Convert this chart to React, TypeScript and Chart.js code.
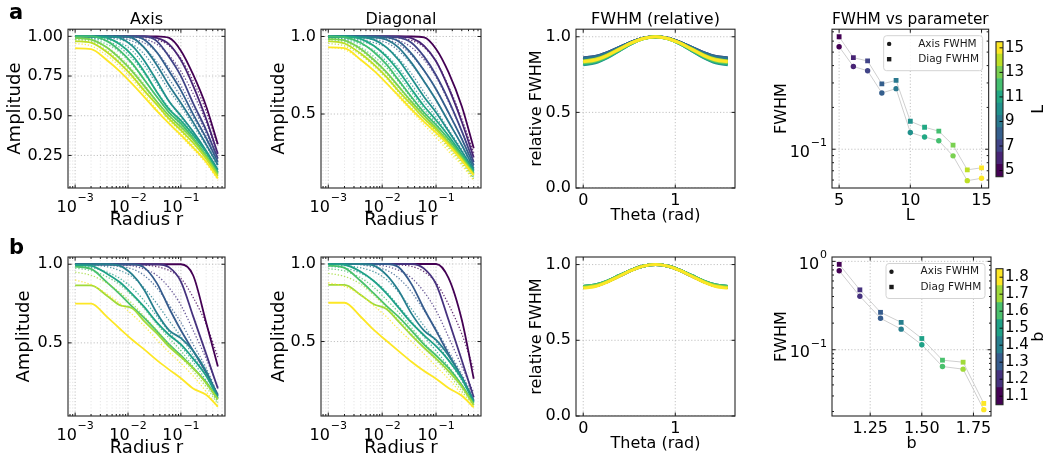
import React, { useEffect, useRef } from 'react';
import { Chart, registerables } from 'chart.js';

Chart.register(...registerables);

const FONT = "'DejaVu Sans', 'Liberation Sans', sans-serif";
Chart.defaults.font.family = FONT;
Chart.defaults.color = '#000';

// ---------------- data ----------------
const RADII = [0.001, 0.002, 0.004, 0.007, 0.012, 0.02, 0.035, 0.06, 0.1, 0.17, 0.3, 0.5];
const L_VALUES = [5, 6, 7, 8, 9, 10, 11, 12, 13, 14, 15];
const B_VALUES = [1.1, 1.2, 1.3, 1.4, 1.5, 1.6, 1.7, 1.8];
const L_COLORS = ['#440154', '#482475', '#414487', '#355f8d', '#2a788e', '#21918c', '#22a884', '#44bf70', '#7ad151', '#bddf26', '#fde725'];
const B_COLORS = ['#440154', '#46327e', '#365c8d', '#277f8e', '#1fa187', '#4ac16d', '#a0da39', '#fde725'];

// Row a, Axis (solid = measured, dotted = reference)
const AXIS_L_SOLID = [
  [1, 1, 1, 1, 1, 1, 1, 0.99, 0.91, 0.76, 0.56, 0.32],
  [1, 1, 1, 1, 1, 1, 0.99, 0.95, 0.85, 0.69, 0.48, 0.26],
  [1, 1, 1, 1, 1, 1, 0.97, 0.87, 0.75, 0.58, 0.41, 0.23],
  [1, 1, 1, 1, 1, 0.98, 0.9, 0.78, 0.66, 0.51, 0.36, 0.21],
  [1, 1, 1, 1, 0.99, 0.93, 0.82, 0.69, 0.58, 0.46, 0.32, 0.19],
  [1, 1, 1, 0.99, 0.94, 0.85, 0.72, 0.59, 0.5, 0.4, 0.28, 0.16],
  [1, 1, 0.99, 0.95, 0.88, 0.78, 0.65, 0.54, 0.47, 0.38, 0.27, 0.145],
  [1, 1, 0.97, 0.91, 0.83, 0.73, 0.62, 0.52, 0.45, 0.36, 0.25, 0.14],
  [0.99, 0.98, 0.93, 0.86, 0.78, 0.69, 0.59, 0.5, 0.43, 0.35, 0.245, 0.13],
  [0.97, 0.96, 0.9, 0.83, 0.75, 0.66, 0.57, 0.48, 0.41, 0.33, 0.23, 0.12],
  [0.925, 0.92, 0.85, 0.78, 0.7, 0.62, 0.53, 0.45, 0.38, 0.3, 0.21, 0.105],
];
const AXIS_L_DOTTED = [
  [1, 1, 1, 1, 1, 0.995, 0.98, 0.94, 0.86, 0.72, 0.53, 0.31],
  [1, 1, 1, 1, 0.995, 0.985, 0.95, 0.88, 0.78, 0.64, 0.46, 0.25],
  [1, 1, 1, 0.995, 0.985, 0.96, 0.9, 0.8, 0.69, 0.55, 0.39, 0.22],
  [1, 1, 0.995, 0.99, 0.97, 0.93, 0.84, 0.73, 0.62, 0.49, 0.35, 0.2],
  [1, 0.995, 0.99, 0.98, 0.95, 0.89, 0.78, 0.66, 0.56, 0.44, 0.31, 0.18],
  [0.995, 0.99, 0.98, 0.96, 0.91, 0.82, 0.7, 0.59, 0.49, 0.39, 0.27, 0.155],
  [0.99, 0.985, 0.97, 0.93, 0.86, 0.77, 0.65, 0.55, 0.46, 0.37, 0.25, 0.14],
  [0.985, 0.98, 0.95, 0.9, 0.82, 0.73, 0.62, 0.52, 0.44, 0.35, 0.24, 0.13],
  [0.98, 0.97, 0.93, 0.87, 0.79, 0.7, 0.59, 0.49, 0.42, 0.33, 0.23, 0.12],
  [0.97, 0.96, 0.91, 0.84, 0.76, 0.67, 0.57, 0.47, 0.4, 0.31, 0.21, 0.11],
  [0.955, 0.94, 0.88, 0.81, 0.73, 0.64, 0.54, 0.45, 0.37, 0.29, 0.2, 0.095],
];
// Row a, Diagonal
const DIAG_L_SOLID = [
  [1, 1, 1, 1, 1, 1, 1, 0.995, 0.92, 0.77, 0.55, 0.28],
  [1, 1, 1, 1, 1, 1, 0.99, 0.94, 0.84, 0.67, 0.45, 0.22],
  [1, 1, 1, 1, 1, 0.995, 0.96, 0.87, 0.75, 0.59, 0.39, 0.19],
  [1, 1, 1, 1, 0.995, 0.97, 0.89, 0.78, 0.66, 0.51, 0.34, 0.17],
  [1, 1, 1, 0.995, 0.98, 0.93, 0.83, 0.71, 0.59, 0.45, 0.3, 0.15],
  [1, 1, 0.995, 0.98, 0.93, 0.85, 0.73, 0.61, 0.51, 0.39, 0.26, 0.14],
  [1, 1, 0.985, 0.94, 0.87, 0.78, 0.66, 0.55, 0.46, 0.36, 0.24, 0.13],
  [1, 0.995, 0.96, 0.9, 0.82, 0.72, 0.61, 0.51, 0.43, 0.34, 0.23, 0.12],
  [0.985, 0.975, 0.92, 0.85, 0.77, 0.68, 0.58, 0.49, 0.41, 0.32, 0.22, 0.115],
  [0.97, 0.955, 0.89, 0.82, 0.74, 0.65, 0.56, 0.47, 0.4, 0.31, 0.21, 0.11],
  [0.93, 0.925, 0.85, 0.78, 0.7, 0.62, 0.53, 0.45, 0.38, 0.3, 0.2, 0.105],
];
const DIAG_L_DOTTED = [
  [1, 1, 1, 1, 0.995, 0.99, 0.975, 0.93, 0.84, 0.68, 0.47, 0.25],
  [1, 1, 1, 0.995, 0.99, 0.975, 0.93, 0.85, 0.74, 0.58, 0.39, 0.19],
  [1, 1, 0.995, 0.99, 0.98, 0.95, 0.88, 0.78, 0.66, 0.51, 0.34, 0.16],
  [1, 0.995, 0.99, 0.98, 0.96, 0.91, 0.82, 0.71, 0.59, 0.45, 0.3, 0.14],
  [0.995, 0.99, 0.98, 0.96, 0.93, 0.86, 0.76, 0.64, 0.53, 0.4, 0.27, 0.13],
  [0.99, 0.985, 0.97, 0.94, 0.88, 0.8, 0.69, 0.58, 0.48, 0.36, 0.24, 0.11],
  [0.985, 0.98, 0.95, 0.91, 0.84, 0.75, 0.64, 0.53, 0.44, 0.33, 0.22, 0.1],
  [0.98, 0.97, 0.93, 0.87, 0.8, 0.71, 0.6, 0.5, 0.41, 0.31, 0.2, 0.09],
  [0.97, 0.96, 0.91, 0.84, 0.76, 0.67, 0.57, 0.47, 0.39, 0.29, 0.19, 0.085],
  [0.955, 0.94, 0.88, 0.81, 0.73, 0.64, 0.54, 0.45, 0.37, 0.28, 0.18, 0.08],
  [0.93, 0.915, 0.85, 0.78, 0.7, 0.61, 0.52, 0.43, 0.35, 0.26, 0.17, 0.07],
];
// Row b, Axis
const AXIS_B_SOLID = [
  [1, 1, 1, 1, 1, 1, 1, 1, 1, 0.93, 0.63, 0.35],
  [1, 1, 1, 1, 1, 1, 1, 0.98, 0.89, 0.67, 0.43, 0.21],
  [1, 1, 1, 1, 1, 0.98, 0.88, 0.72, 0.58, 0.45, 0.31, 0.17],
  [1, 1, 1, 0.99, 0.935, 0.84, 0.69, 0.58, 0.53, 0.45, 0.32, 0.16],
  [0.995, 0.99, 0.94, 0.885, 0.81, 0.73, 0.63, 0.55, 0.49, 0.4, 0.29, 0.15],
  [0.985, 0.97, 0.885, 0.81, 0.73, 0.66, 0.575, 0.49, 0.42, 0.34, 0.25, 0.145],
  [0.865, 0.865, 0.8, 0.74, 0.72, 0.64, 0.56, 0.475, 0.41, 0.34, 0.245, 0.14],
  [0.75, 0.75, 0.665, 0.59, 0.52, 0.46, 0.39, 0.33, 0.275, 0.21, 0.17, 0.095],
];
const AXIS_B_DOTTED = [
  [1, 1, 1, 1, 1, 0.995, 0.985, 0.96, 0.91, 0.79, 0.62, 0.41],
  [1, 1, 1, 0.995, 0.99, 0.97, 0.93, 0.85, 0.74, 0.58, 0.4, 0.22],
  [1, 1, 0.995, 0.985, 0.97, 0.93, 0.85, 0.74, 0.63, 0.49, 0.34, 0.17],
  [1, 0.995, 0.985, 0.96, 0.92, 0.85, 0.75, 0.64, 0.54, 0.42, 0.29, 0.15],
  [0.99, 0.98, 0.95, 0.91, 0.85, 0.77, 0.67, 0.57, 0.48, 0.38, 0.26, 0.13],
  [0.975, 0.96, 0.92, 0.87, 0.8, 0.72, 0.62, 0.53, 0.45, 0.35, 0.24, 0.12],
  [0.95, 0.93, 0.88, 0.82, 0.75, 0.67, 0.58, 0.49, 0.41, 0.32, 0.22, 0.11],
  [0.9, 0.87, 0.81, 0.75, 0.68, 0.61, 0.52, 0.44, 0.37, 0.29, 0.19, 0.09],
];
// Row b, Diagonal
const DIAG_B_SOLID = [
  [1, 1, 1, 1, 1, 1, 1, 1, 1, 0.91, 0.64, 0.26],
  [1, 1, 1, 1, 1, 1, 1, 0.97, 0.87, 0.64, 0.38, 0.14],
  [1, 1, 1, 1, 1, 0.98, 0.87, 0.71, 0.57, 0.42, 0.27, 0.12],
  [1, 1, 1, 0.99, 0.93, 0.83, 0.68, 0.57, 0.51, 0.41, 0.27, 0.115],
  [1, 0.995, 0.95, 0.89, 0.81, 0.72, 0.62, 0.54, 0.47, 0.38, 0.26, 0.11],
  [0.99, 0.975, 0.89, 0.81, 0.73, 0.66, 0.57, 0.48, 0.41, 0.33, 0.22, 0.1],
  [0.865, 0.865, 0.8, 0.74, 0.71, 0.63, 0.54, 0.46, 0.39, 0.31, 0.21, 0.09],
  [0.75, 0.75, 0.66, 0.575, 0.505, 0.44, 0.37, 0.31, 0.26, 0.2, 0.15, 0.075],
];
const DIAG_B_DOTTED = [
  [1, 1, 1, 1, 1, 0.995, 0.985, 0.95, 0.88, 0.74, 0.55, 0.32],
  [1, 1, 1, 0.995, 0.985, 0.96, 0.91, 0.82, 0.7, 0.53, 0.34, 0.17],
  [1, 1, 0.995, 0.98, 0.96, 0.91, 0.82, 0.7, 0.58, 0.44, 0.29, 0.14],
  [1, 0.99, 0.975, 0.95, 0.9, 0.82, 0.71, 0.6, 0.5, 0.38, 0.25, 0.12],
  [0.985, 0.975, 0.94, 0.89, 0.82, 0.73, 0.63, 0.53, 0.44, 0.34, 0.22, 0.1],
  [0.97, 0.955, 0.91, 0.85, 0.77, 0.69, 0.59, 0.49, 0.41, 0.31, 0.2, 0.09],
  [0.94, 0.92, 0.87, 0.8, 0.72, 0.64, 0.55, 0.46, 0.38, 0.29, 0.18, 0.08],
  [0.88, 0.855, 0.8, 0.73, 0.66, 0.58, 0.5, 0.42, 0.34, 0.26, 0.16, 0.07],
];

// relative FWHM vs theta
const THETA = [0, 0.1309, 0.2618, 0.3927, 0.5236, 0.6545, 0.7854, 0.9163, 1.0472, 1.1781, 1.309, 1.4399, 1.5708];
const REL_L = [
  [0.85, 0.86, 0.888, 0.925, 0.963, 0.99, 1, 0.99, 0.963, 0.925, 0.888, 0.86, 0.85],
  [0.855, 0.865, 0.891, 0.928, 0.964, 0.99, 1, 0.99, 0.964, 0.928, 0.891, 0.865, 0.855],
  [0.86, 0.869, 0.895, 0.93, 0.965, 0.991, 1, 0.991, 0.965, 0.93, 0.895, 0.869, 0.86],
  [0.86, 0.869, 0.895, 0.93, 0.965, 0.991, 1, 0.991, 0.965, 0.93, 0.895, 0.869, 0.86],
  [0.855, 0.865, 0.891, 0.928, 0.964, 0.99, 1, 0.99, 0.964, 0.928, 0.891, 0.865, 0.855],
  [0.815, 0.827, 0.861, 0.908, 0.954, 0.988, 1, 0.988, 0.954, 0.908, 0.861, 0.827, 0.815],
  [0.82, 0.832, 0.865, 0.91, 0.955, 0.988, 1, 0.988, 0.955, 0.91, 0.865, 0.832, 0.82],
  [0.825, 0.837, 0.869, 0.913, 0.956, 0.988, 1, 0.988, 0.956, 0.913, 0.869, 0.837, 0.825],
  [0.83, 0.841, 0.873, 0.915, 0.958, 0.989, 1, 0.989, 0.958, 0.915, 0.873, 0.841, 0.83],
  [0.84, 0.851, 0.88, 0.92, 0.96, 0.989, 1, 0.989, 0.96, 0.92, 0.88, 0.851, 0.84],
  [0.835, 0.846, 0.876, 0.918, 0.959, 0.989, 1, 0.989, 0.959, 0.918, 0.876, 0.846, 0.835],
];
const REL_B = [
  [0.85, 0.86, 0.888, 0.925, 0.963, 0.99, 1, 0.99, 0.963, 0.925, 0.888, 0.86, 0.85],
  [0.85, 0.86, 0.888, 0.925, 0.963, 0.99, 1, 0.99, 0.963, 0.925, 0.888, 0.86, 0.85],
  [0.85, 0.86, 0.888, 0.925, 0.963, 0.99, 1, 0.99, 0.963, 0.925, 0.888, 0.86, 0.85],
  [0.855, 0.865, 0.891, 0.928, 0.964, 0.99, 1, 0.99, 0.964, 0.928, 0.891, 0.865, 0.855],
  [0.855, 0.865, 0.891, 0.928, 0.964, 0.99, 1, 0.99, 0.964, 0.928, 0.891, 0.865, 0.855],
  [0.855, 0.865, 0.891, 0.928, 0.964, 0.99, 1, 0.99, 0.964, 0.928, 0.891, 0.865, 0.855],
  [0.85, 0.86, 0.888, 0.925, 0.963, 0.99, 1, 0.99, 0.963, 0.925, 0.888, 0.86, 0.85],
  [0.845, 0.855, 0.884, 0.923, 0.961, 0.99, 1, 0.99, 0.961, 0.923, 0.884, 0.855, 0.845],
];

// FWHM vs parameter
const FWHM_AXIS_L = [0.547, 0.394, 0.367, 0.254, 0.273, 0.132, 0.1225, 0.115, 0.0896, 0.0594, 0.0618];
const FWHM_DIAG_L = [0.645, 0.456, 0.432, 0.295, 0.313, 0.159, 0.144, 0.135, 0.107, 0.0711, 0.0735];
const FWHM_AXIS_B = [0.782, 0.403, 0.227, 0.171, 0.114, 0.0646, 0.0603, 0.021];
const FWHM_DIAG_B = [0.925, 0.476, 0.265, 0.204, 0.134, 0.0762, 0.0723, 0.0247];

// ticks
const R_MAJOR = [0.001, 0.01, 0.1];
const R_MINOR = [0.0008, 0.0009, 0.002, 0.003, 0.004, 0.005, 0.006, 0.007, 0.008, 0.009, 0.02, 0.03, 0.04, 0.05, 0.06, 0.07, 0.08, 0.09, 0.2, 0.3, 0.4, 0.5, 0.6];
const AMP_TICKS_A = [0.25, 0.5, 0.75, 1.0];
const AMP_TICKS = [0.5, 1.0];
const THETA_TICKS = [0, 1];
const REL_TICKS = [0, 0.5, 1.0];
const L_TICKS = [5, 10, 15];
const B_TICKS = [1.25, 1.5, 1.75];
const CB_L_TICKS = [5, 7, 9, 11, 13, 15];
const FW_L_MAJOR = [0.1];
const FW_L_MINOR = [0.06, 0.07, 0.08, 0.09, 0.2, 0.3, 0.4, 0.5, 0.6, 0.7];
const FW_B_MAJOR = [0.1, 1];
const FW_B_MINOR = [0.02, 0.03, 0.04, 0.05, 0.06, 0.07, 0.08, 0.09, 0.2, 0.3, 0.4, 0.5, 0.6, 0.7, 0.8, 0.9];

// ---------------- helpers ----------------
function rgba(hex: string, a: number) {
  const n = parseInt(hex.slice(1), 16);
  return `rgba(${(n >> 16) & 255},${(n >> 8) & 255},${n & 255},${a})`;
}

function expText(v: number) {
  const e = Math.round(Math.log10(v));
  return e < 0 ? '\u2212' + Math.abs(e) : String(e);
}

function powLabel(ctx: any, v: number, x: number, y: number, align: string) {
  ctx.font = `16px ${FONT}`;
  const w1 = ctx.measureText('10').width;
  const sup = expText(v);
  ctx.font = `11px ${FONT}`;
  const w2 = ctx.measureText(sup).width;
  const gap = 0.8;
  const total = w1 + gap + w2;
  const x0 = align === 'center' ? x - total / 2 : x - total;
  ctx.fillStyle = '#000';
  ctx.textAlign = 'left';
  ctx.textBaseline = 'alphabetic';
  ctx.font = `16px ${FONT}`;
  ctx.fillText('10', x0, y);
  ctx.font = `11px ${FONT}`;
  ctx.fillText(sup, x0 + w1 + gap, y - 10.5);
}

function drawLegend(ctx: any, a: any) {
  const w = 99, h = 35;
  const x = a.right - w - 6.5, y = a.top + 6;
  ctx.save();
  ctx.fillStyle = 'rgba(255,255,255,0.85)';
  ctx.strokeStyle = '#d3d3d3';
  ctx.lineWidth = 1;
  ctx.beginPath();
  ctx.roundRect(x + 0.5, y + 0.5, w, h, 3);
  ctx.fill();
  ctx.stroke();
  ctx.fillStyle = '#1a1a1a';
  ctx.beginPath();
  ctx.arc(x + 6, y + 8.7, 2.2, 0, Math.PI * 2);
  ctx.fill();
  ctx.fillRect(x + 6 - 2.2, y + 24 - 2.2, 4.4, 4.4);
  ctx.font = `10.5px ${FONT}`;
  ctx.textAlign = 'left';
  ctx.textBaseline = 'middle';
  ctx.fillText('Axis FWHM', x + 35, y + 8.7);
  ctx.fillText('Diag FWHM', x + 35, y + 24);
  ctx.restore();
}

function mpl(o: any) {
  return {
    id: 'mpl',
    beforeDatasetsDraw(chart: any) {
      const { ctx, chartArea: a, scales } = chart;
      const xs = scales.x, ys = scales.y;
      ctx.save();
      ctx.beginPath();
      ctx.rect(a.left, a.top, a.right - a.left, a.bottom - a.top);
      ctx.clip();
      ctx.lineWidth = 0.8;
      ctx.setLineDash([1.2, 2]);
      const vl = (val: number, c: string) => {
        const p = xs.getPixelForValue(val);
        ctx.strokeStyle = c;
        ctx.beginPath(); ctx.moveTo(p, a.top); ctx.lineTo(p, a.bottom); ctx.stroke();
      };
      const hl = (val: number, c: string) => {
        const p = ys.getPixelForValue(val);
        ctx.strokeStyle = c;
        ctx.beginPath(); ctx.moveTo(a.left, p); ctx.lineTo(a.right, p); ctx.stroke();
      };
      if (o.xMinorGrid) (o.xMinor || []).forEach((v: number) => vl(v, 'rgba(200,200,200,0.6)'));
      if (o.xGrid) (o.xMajor || []).forEach((v: number) => vl(v, 'rgba(165,165,165,0.85)'));
      if (o.yGrid) (o.yMajor || []).forEach((v: number) => hl(v, 'rgba(165,165,165,0.85)'));
      ctx.restore();
    },
    afterDraw(chart: any) {
      const { ctx, chartArea: a, scales } = chart;
      const xs = scales.x, ys = scales.y;
      const sides = o.sides || { top: true, bottom: true, left: true, right: true };
      ctx.save();
      ctx.setLineDash([]);
      ctx.strokeStyle = '#000';
      ctx.lineWidth = 0.9;
      const seg = (x1: number, y1: number, x2: number, y2: number) => {
        ctx.beginPath(); ctx.moveTo(x1, y1); ctx.lineTo(x2, y2); ctx.stroke();
      };
      const xt = (vals: number[], len: number) => vals.forEach((v) => {
        const p = xs.getPixelForValue(v);
        if (p < a.left - 0.5 || p > a.right + 0.5) return;
        if (sides.bottom) seg(p, a.bottom, p, a.bottom - len);
        if (sides.top) seg(p, a.top, p, a.top + len);
      });
      const yt = (vals: number[], len: number) => vals.forEach((v) => {
        const p = ys.getPixelForValue(v);
        if (p < a.top - 0.5 || p > a.bottom + 0.5) return;
        if (sides.left) seg(a.left, p, a.left + len, p);
        if (sides.right) seg(a.right, p, a.right - len, p);
      });
      if (!o.noXTicks) { xt(o.xMajor || [], 3.5); xt(o.xMinor || [], 2); }
      yt(o.yMajor || [], 3.5);
      yt(o.yMinor || [], 2);
      ctx.strokeStyle = '#262626';
      ctx.lineWidth = 1.1;
      ctx.strokeRect(a.left, a.top, a.right - a.left, a.bottom - a.top);
      if (o.xLogLabels) (o.xMajor || []).forEach((v: number) => powLabel(ctx, v, xs.getPixelForValue(v), a.bottom + 23.5, 'center'));
      if (o.yLogLabels) (o.yMajor || []).forEach((v: number) => {
        const p = ys.getPixelForValue(v);
        if (p < a.top - 1 || p > a.bottom + 1) return;
        powLabel(ctx, v, a.left - 5, p + 7.5, 'right');
      });
      if (o.legend) drawLegend(ctx, a);
      if (o.cbLabel) {
        ctx.translate(o.cbLabelX, (a.top + a.bottom) / 2);
        ctx.rotate(-Math.PI / 2);
        ctx.font = `16px ${FONT}`;
        ctx.fillStyle = '#000';
        ctx.textAlign = 'center';
        ctx.textBaseline = 'middle';
        ctx.fillText(o.cbLabel, 0, 0);
      }
      ctx.restore();
    },
  };
}

const tickFont = { family: FONT, size: 16 };
const labelFont = { family: FONT, size: 16, weight: 'normal' };
const bigLabelFont = { family: FONT, size: 18, weight: 'normal' };
const noGrid = { display: false, drawTicks: false };

function baseOptions(padTop: number, padRight: number, title?: string) {
  return {
    responsive: false,
    animation: false,
    devicePixelRatio: 1,
    layout: { padding: { left: 0, right: padRight, top: padTop, bottom: 0 } },
    plugins: {
      legend: { display: false },
      tooltip: { enabled: false },
      title: title
        ? { display: true, text: title, fullSize: false, font: labelFont, color: '#000', padding: { top: 0, bottom: 0 } }
        : { display: false },
    },
  };
}

function yScale(p: any) {
  return {
    type: p.type || 'linear',
    min: p.min,
    max: p.max,
    afterBuildTicks: (s: any) => { s.ticks = p.ticks.map((v: number) => ({ value: v })); },
    ticks: p.log
      ? { display: false }
      : { font: tickFont, color: '#000', padding: 5, autoSkip: false, callback: (v: any) => Number(v).toFixed(p.digits) },
    grid: noGrid,
    border: { display: false },
    title: { display: true, text: p.label, font: p.font || labelFont, color: '#000', padding: { top: p.titlePad, bottom: 0 } },
    afterFit: (s: any) => { s.width = p.width; },
  };
}

function xScale(p: any) {
  return {
    type: p.type || 'linear',
    min: p.min,
    max: p.max,
    afterBuildTicks: (s: any) => { s.ticks = p.ticks.map((v: number) => ({ value: v })); },
    ticks: p.log
      ? { display: false }
      : { font: tickFont, color: '#000', padding: 3, maxRotation: 0, autoSkip: false, callback: (v: any) => Number(v).toFixed(p.digits) },
    grid: noGrid,
    border: { display: false },
    title: { display: true, text: p.label, font: p.font || labelFont, color: '#000', padding: { top: 0, bottom: p.titlePad } },
    afterFit: (s: any) => { s.height = 44; },
  };
}

function ampConfig(p: any) {
  const ds: any[] = [];
  p.solid.forEach((row: number[], i: number) => {
    ds.push({
      data: row.map((y, j) => ({ x: RADII[j], y })),
      borderColor: p.colors[i], borderWidth: 1.8, pointRadius: 0, showLine: true,
      cubicInterpolationMode: 'monotone', fill: false,
    });
    ds.push({
      data: p.dotted[i].map((y: number, j: number) => ({ x: RADII[j], y })),
      borderColor: rgba(p.colors[i], 0.8), borderWidth: 1.3, borderDash: [1.3, 1.9], pointRadius: 0, showLine: true,
      cubicInterpolationMode: 'monotone', fill: false,
    });
  });
  ds.reverse();
  return {
    type: 'scatter',
    data: { datasets: ds },
    options: {
      ...baseOptions(p.padTop, 10, p.title),
      scales: {
        x: xScale({ type: 'logarithmic', log: true, min: 0.000733, max: 0.682, ticks: R_MAJOR, label: 'Radius r', titlePad: 0.4, font: bigLabelFont }),
        y: yScale({ min: p.yMin, max: p.yMax, ticks: p.yTicks, digits: p.digits, label: 'Amplitude', titlePad: p.titlePad, width: p.width, font: bigLabelFont }),
      },
    },
    plugins: [mpl({ xMajor: R_MAJOR, xMinor: R_MINOR, yMajor: p.yTicks, xGrid: true, yGrid: true, xMinorGrid: true, xLogLabels: true })],
  };
}

function relConfig(p: any) {
  const ds = p.curves.map((row: number[], i: number) => ({
    data: row.map((y, j) => ({ x: THETA[j], y })),
    borderColor: p.colors[i], borderWidth: 3, pointRadius: 0, showLine: true,
    cubicInterpolationMode: 'monotone', fill: false,
  })).reverse();
  return {
    type: 'scatter',
    data: { datasets: ds },
    options: {
      ...baseOptions(p.padTop, 10, p.title),
      scales: {
        x: xScale({ min: -0.0785, max: 1.649, ticks: THETA_TICKS, digits: 0, label: 'Theta (rad)', titlePad: 6.5 }),
        y: yScale({ min: 0, max: 1.05, ticks: REL_TICKS, digits: 1, label: 'relative FWHM', titlePad: 12.4, width: 61 }),
      },
    },
    plugins: [mpl({ xMajor: THETA_TICKS, yMajor: REL_TICKS, xGrid: true, yGrid: true })],
  };
}

function fwConfig(p: any) {
  const mk = (vals: number[], style: string, r: number) => ({
    data: p.xVals.map((x: number, i: number) => ({ x, y: vals[i] })),
    showLine: true, borderColor: '#cfcfcf', borderWidth: 1,
    pointStyle: style, pointRadius: r, pointBackgroundColor: p.colors, pointBorderColor: p.colors, pointBorderWidth: 0,
  });
  return {
    type: 'scatter',
    data: { datasets: [mk(p.diag, 'rect', 3.4), mk(p.axis, 'circle', 2.7)] },
    options: {
      ...baseOptions(p.padTop, 2, p.title),
      scales: {
        x: xScale({ min: p.xMin, max: p.xMax, ticks: p.xTicks, digits: p.xDigits, label: p.xLabel, titlePad: 6.5 }),
        y: yScale({ type: 'logarithmic', log: true, min: p.yMin, max: p.yMax, ticks: p.yMajor, label: 'FWHM', titlePad: 7.6, width: 67 }),
      },
    },
    plugins: [mpl({ xMajor: p.xTicks, yMajor: p.yMajor, yMinor: p.yMinor, xGrid: true, yGrid: true, yLogLabels: true, legend: true })],
  };
}

function cbConfig(p: any) {
  return {
    type: 'bar',
    data: {
      labels: [''],
      datasets: p.vals.map((v: number, i: number) => ({
        data: [[v - p.half, v + p.half]],
        backgroundColor: p.colors[i], borderWidth: 0,
        barPercentage: 1, categoryPercentage: 1, grouped: false,
      })),
    },
    options: {
      responsive: false,
      animation: false,
      devicePixelRatio: 1,
      layout: { padding: { left: 2, right: 0, top: p.padTop, bottom: p.padBottom } },
      plugins: { legend: { display: false }, tooltip: { enabled: false } },
      scales: {
        x: { display: false },
        y: {
          position: 'right',
          min: p.min,
          max: p.max,
          afterBuildTicks: (s: any) => { s.ticks = p.ticks.map((v: number) => ({ value: v })); },
          ticks: { font: { family: FONT, size: 15 }, color: '#000', padding: 2, autoSkip: false, callback: (v: any) => Number(v).toFixed(p.digits) },
          grid: noGrid,
          border: { display: false },
          afterFit: (s: any) => { s.width = 47; },
        },
      },
    },
    plugins: [mpl({ yMajor: p.ticks, noXTicks: true, sides: { top: false, bottom: false, left: false, right: true }, cbLabel: p.label, cbLabelX: 45 })],
  };
}

function Panel({ left, top, width, height, make }: any) {
  const ref = useRef<HTMLCanvasElement>(null);
  useEffect(() => {
    const chart = new Chart(ref.current as HTMLCanvasElement, make());
    return () => chart.destroy();
  }, []);
  return (
    <canvas
      ref={ref}
      width={width}
      height={height}
      style={{ position: 'absolute', left, top, width, height, display: 'block' }}
    />
  );
}

const ROW_B = 228;

export default function App() {
  const letter = { position: 'absolute' as const, left: 9, font: `bold 21px ${FONT}`, lineHeight: '21px', color: '#000' };
  return (
    <div style={{ position: 'absolute', left: 0, top: 0, width: 1050, height: 463, background: '#fff', overflow: 'hidden' }}>
      <Panel left={0} top={0} width={235} height={232} make={() => ampConfig({ solid: AXIS_L_SOLID, dotted: AXIS_L_DOTTED, colors: L_COLORS, yMin: 0.045, yMax: 1.045, yTicks: AMP_TICKS_A, digits: 2, title: 'Axis', padTop: 10, titlePad: 4.2, width: 68 })} />
      <Panel left={262} top={0} width={229} height={232} make={() => ampConfig({ solid: DIAG_L_SOLID, dotted: DIAG_L_DOTTED, colors: L_COLORS, yMin: 0.023, yMax: 1.047, yTicks: AMP_TICKS, digits: 1, title: 'Diagonal', padTop: 10, titlePad: 6.7, width: 59 })} />
      <Panel left={515} top={0} width={230} height={232} make={() => relConfig({ curves: REL_L, colors: L_COLORS, title: 'FWHM (relative)', padTop: 10 })} />
      <Panel left={765} top={0} width={230} height={232} make={() => fwConfig({ xVals: L_VALUES, axis: FWHM_AXIS_L, diag: FWHM_DIAG_L, colors: L_COLORS, xMin: 4.5, xMax: 15.5, xTicks: L_TICKS, xDigits: 0, xLabel: 'L', yMin: 0.0526, yMax: 0.731, yMajor: FW_L_MAJOR, yMinor: FW_L_MINOR, title: 'FWHM vs parameter', padTop: 10 })} />
      <Panel left={994} top={25} width={56} height={170} make={() => cbConfig({ vals: L_VALUES, colors: L_COLORS, half: 0.5, min: 4.5, max: 15.5, ticks: CB_L_TICKS, digits: 0, label: 'L', padTop: 16.7, padBottom: 18.3 })} />

      <Panel left={0} top={ROW_B} width={235} height={232} make={() => ampConfig({ solid: AXIS_B_SOLID, dotted: AXIS_B_DOTTED, colors: B_COLORS, yMin: 0.035, yMax: 1.046, yTicks: AMP_TICKS, digits: 1, padTop: 29, titlePad: 13.2, width: 68 })} />
      <Panel left={262} top={ROW_B} width={229} height={232} make={() => ampConfig({ solid: DIAG_B_SOLID, dotted: DIAG_B_DOTTED, colors: B_COLORS, yMin: 0.02, yMax: 1.045, yTicks: AMP_TICKS, digits: 1, padTop: 29, titlePad: 6.7, width: 59 })} />
      <Panel left={515} top={ROW_B} width={230} height={232} make={() => relConfig({ curves: REL_B, colors: B_COLORS, padTop: 29 })} />
      <Panel left={765} top={ROW_B} width={230} height={232} make={() => fwConfig({ xVals: B_VALUES, axis: FWHM_AXIS_B, diag: FWHM_DIAG_B, colors: B_COLORS, xMin: 1.065, xMax: 1.835, xTicks: B_TICKS, xDigits: 2, xLabel: 'b', yMin: 0.0178, yMax: 1.12, yMajor: FW_B_MAJOR, yMinor: FW_B_MINOR, padTop: 29 })} />
      <Panel left={994} top={252} width={56} height={170} make={() => cbConfig({ vals: B_VALUES, colors: B_COLORS, half: 0.05, min: 1.05, max: 1.85, ticks: B_VALUES, digits: 1, label: 'b', padTop: 16.7, padBottom: 17.3 })} />

      <div style={{ ...letter, top: 2 }}>a</div>
      <div style={{ ...letter, top: 237 }}>b</div>
    </div>
  );
}
